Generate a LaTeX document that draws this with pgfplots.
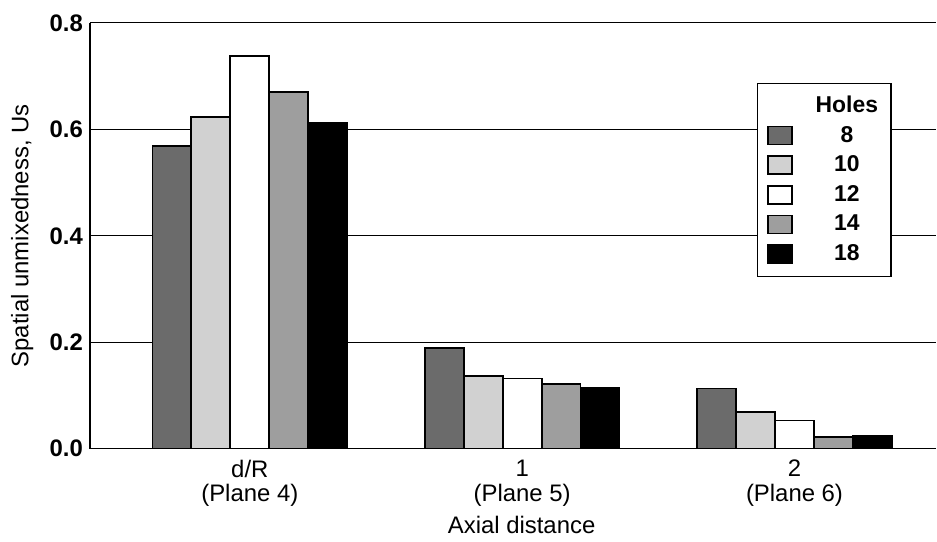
\documentclass[border=0pt]{standalone}
\usepackage{fontspec}
\setmainfont{Liberation Sans}
\usepackage{pgfplots}
\pgfplotsset{compat=1.18}

\definecolor{c8}{gray}{0.42}
\definecolor{c10}{gray}{0.82}
\definecolor{c12}{gray}{1}
\definecolor{c14}{gray}{0.62}
\definecolor{c18}{gray}{0}

\pgfplotsset{swatch/.style={legend image code/.code={\draw[##1,line width=0.8pt] (0bp,-4.5bp) rectangle (12bp,4.5bp);}}}

\begin{document}
\begin{tikzpicture}
\begin{axis}[
  scale only axis,
  width=423.5bp, height=213bp,
  ybar=0pt, bar width=0.143,
  xmin=-0.587, xmax=2.521,
  ymin=0, ymax=0.8,
  axis x line*=bottom, axis y line*=left,
  axis line style={line width=0.6pt, -},
  ytick={0,0.2,0.4,0.6,0.8},
  yticklabels={0.0,0.2,0.4,0.6,0.8},
  xtick={0,1,2},
  xticklabels={d/R\\(Plane 4),1\\(Plane 5),2\\(Plane 6)},
  major tick length=0pt,
  ymajorgrids,
  grid style={black, line width=0.5pt},
  yticklabel style={font=\fontsize{12}{14}\selectfont\bfseries},
  xticklabel style={font=\fontsize{12}{12.5}\selectfont, align=center, yshift=-2bp},
  /pgf/number format/assume math mode=true,
  ylabel={Spatial unmixedness, Us},
  xlabel={Axial distance},
  label style={font=\fontsize{12}{14}\selectfont},
  ylabel style={at={(axis description cs:-0.080,0.5)}, anchor=center},
  xlabel style={at={(axis description cs:0.51,-0.178)}, anchor=center},
  legend style={at={(axis description cs:0.7875,0.859)}, anchor=north west,
    draw=black, line width=0.6pt, fill=white,
    font=\fontsize{11.5}{13}\selectfont\bfseries,
    inner xsep=5bp, inner ysep=4bp, row sep=0.3bp, column sep=10bp,
    nodes={text height=9bp, text depth=2.5bp, inner sep=1.5bp}},
  legend cell align=center,
]
\addlegendimage{empty legend}
\addlegendentry{Holes}
\addplot[fill=c8, draw=black, line width=0.9pt, swatch] coordinates {(0,0.569) (1,0.189) (2,0.113)};
\addlegendentry{8}
\addplot[fill=c10, draw=black, line width=0.9pt, swatch] coordinates {(0,0.623) (1,0.137) (2,0.069)};
\addlegendentry{10}
\addplot[fill=c12, draw=black, line width=0.9pt, swatch] coordinates {(0,0.738) (1,0.132) (2,0.053)};
\addlegendentry{12}
\addplot[fill=c14, draw=black, line width=0.9pt, swatch] coordinates {(0,0.671) (1,0.121) (2,0.022)};
\addlegendentry{14}
\addplot[fill=c18, draw=black, line width=0.9pt, swatch] coordinates {(0,0.613) (1,0.114) (2,0.024)};
\addlegendentry{18}
\end{axis}
\path[use as bounding box] ([xshift=-45bp,yshift=-46.5bp]current axis.south west) rectangle ([yshift=11.5bp]current axis.north east);
\end{tikzpicture}
\end{document}
